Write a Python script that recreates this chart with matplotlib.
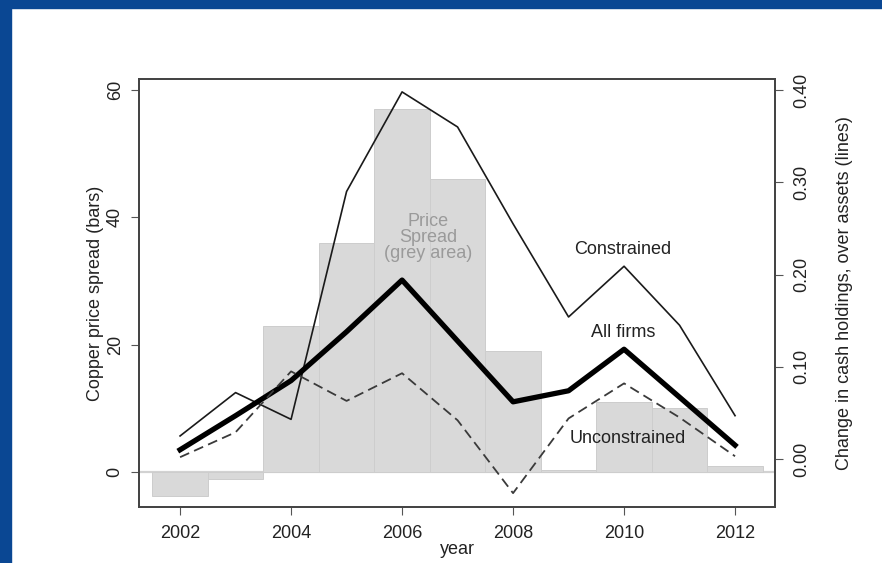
import matplotlib
matplotlib.use("Agg")
import matplotlib.pyplot as plt
from matplotlib.patches import Rectangle

plt.rcParams['font.family'] = ['Liberation Sans', 'DejaVu Sans']

years = [2002, 2003, 2004, 2005, 2006, 2007, 2008, 2009, 2010, 2011, 2012]

# copper price spread (left axis, bars)
spread = [-3.7, -1.1, 23, 36, 57, 46, 19, 0.3, 11, 10, 1]

# change in cash holdings over assets (right axis, lines)
all_firms = [0.010, 0.047, 0.085, 0.138, 0.194, 0.128, 0.062, 0.074, 0.119, 0.067, 0.015]
constrained = [0.025, 0.072, 0.043, 0.290, 0.398, 0.360, 0.255, 0.154, 0.209, 0.145, 0.047]
unconstrained = [0.002, 0.029, 0.095, 0.063, 0.093, 0.042, -0.037, 0.044, 0.082, 0.045, 0.003]

left_ticks = [0, 20, 40, 60]
right_ticks = [0.0, 0.1, 0.2, 0.3, 0.4]
right_labels = ['0.00', '0.10', '0.20', '0.30', '0.40']
x_ticks = [2002, 2004, 2006, 2008, 2010, 2012]

fig = plt.figure(figsize=(8.82, 5.63), dpi=100)
ax = fig.add_axes([0.1576, 0.0995, 0.7211, 0.7602])

# frame of the slide
fig.patches.append(Rectangle((0, 1 - 8 / 563), 1, 8 / 563, transform=fig.transFigure,
                             color='#0a4793', zorder=10))
fig.patches.append(Rectangle((0, 0), 11 / 882, 1, transform=fig.transFigure,
                             color='#0a4793', zorder=10))

ax.bar(years, spread, width=1.0, color='#d9d9d9', edgecolor='#cdcdcd', linewidth=0.7, zorder=1)
ax.axhline(0, color='#d2d2d2', lw=1.6, zorder=0)
ax.set_xlim(2001.26, 2012.72)
ax.set_ylim(-5.5, 61.73)
ax.set_yticks(left_ticks)
ax.set_yticklabels([str(t) for t in left_ticks], rotation=90, va='center')
ax.set_xticks(x_ticks)
ax.set_xlabel('year', fontsize=13, color='#222222', labelpad=-1)
ax.set_ylabel('Copper price spread (bars)', fontsize=13, color='#222222', labelpad=2)
ax.tick_params(axis='x', length=6, pad=7, labelsize=13, color='#555555', labelcolor='#222222')
ax.tick_params(axis='y', length=6, pad=5, labelsize=13, color='#555555', labelcolor='#222222')

ax2 = ax.twinx()
ax2.plot(years, constrained, color='#1a1a1a', lw=1.2)
ax2.plot(years, all_firms, color='black', lw=3.8)
ax2.plot(years, unconstrained, color='#3a3a3a', lw=1.3, dashes=(5.5, 3))
ax2.set_ylim(-0.052, 0.412)
ax2.set_yticks(right_ticks)
ax2.set_yticklabels(right_labels, rotation=90, va='center')
ax2.set_ylabel('Change in cash holdings, over assets (lines)', fontsize=13, color='#222222',
               rotation=90, labelpad=19)
ax2.yaxis.set_label_position('right')
ax2.tick_params(axis='y', length=6, pad=7, labelsize=13, color='#555555', labelcolor='#222222')

ax2.text(2006.47, 0.240, 'Price\nSpread\n(grey area)', color='#9a9a9a', fontsize=13,
         ha='center', va='center', linespacing=0.95)
ax2.text(2009.98, 0.227, 'Constrained', color='#222222', fontsize=13, ha='center', va='center')
ax2.text(2009.98, 0.137, 'All firms', color='#222222', fontsize=13, ha='center', va='center')
ax2.text(2010.07, 0.022, 'Unconstrained', color='#222222', fontsize=13, ha='center', va='center')

for a in (ax, ax2):
    for s in a.spines.values():
        s.set_color('#444444')
        s.set_linewidth(1.3)

fig.savefig('out.png', dpi=100)
